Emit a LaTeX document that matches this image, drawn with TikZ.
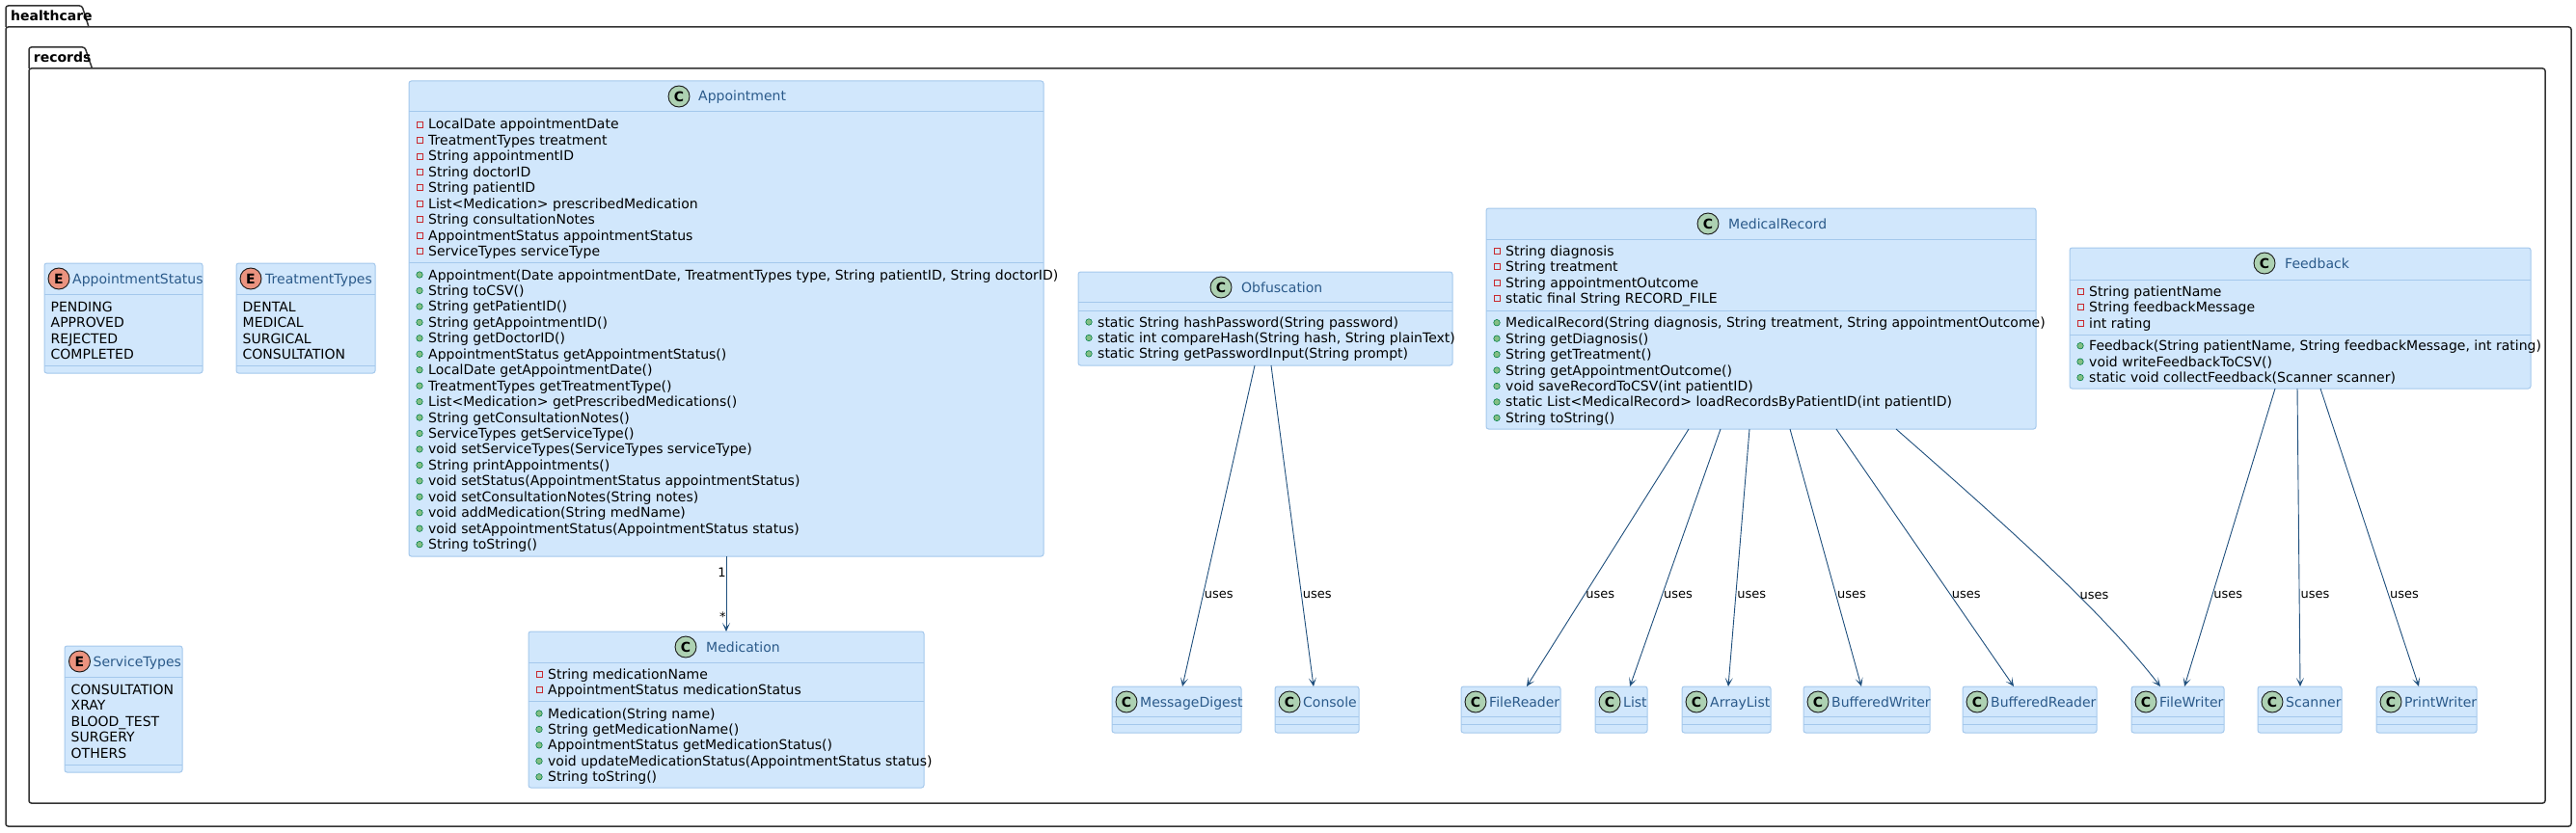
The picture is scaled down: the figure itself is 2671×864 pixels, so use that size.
\documentclass[tikz,border=0pt]{standalone}
\usepackage{fontspec}
\setmainfont{DejaVu Sans}
\usetikzlibrary{arrows.meta,positioning}

\definecolor{clsfill}{HTML}{D1E7FC}
\definecolor{clsline}{HTML}{A4C8EC}
\definecolor{titleblue}{HTML}{2B5A8A}
\definecolor{arrowblue}{HTML}{1F4F7D}
\definecolor{cgreen}{HTML}{ADD1B2}
\definecolor{eorange}{HTML}{EB937F}
\definecolor{privred}{HTML}{C82930}
\definecolor{pubgreen}{HTML}{84BE84}
\definecolor{pubdark}{HTML}{038048}
\definecolor{pkgline}{HTML}{333333}

% member lines: #1 prefix, #2 marker style, #3 box left, #4 first baseline, #5 lines
\newcommand{\mlist}[5]{%
  \foreach \txt [count=\k from 0] in {#5} {
    \pgfmathsetmacro{\yb}{#4+16.45*\k}
    \node[#2] (#1m\k) at ({#3+11}, {\yb-5}) {};
    \node[memb] (#1t\k) at ({#3+20}, \yb) {\txt};
  }}
% enum values: #1 prefix, #2 box left, #3 first baseline, #4 values
\newcommand{\elist}[4]{%
  \foreach \txt [count=\k from 0] in {#4} {
    \node[memb] (#1v\k) at ({#2+6.5}, {#3+16.5*\k}) {\txt};
  }}

\begin{document}
\begin{tikzpicture}[
  x=1pt, y=-1pt,
  % --- packages ---
  pkg/.style={draw=pkgline, line width=1.5pt, rounded corners=2.5pt},
  pkglbl/.style={font=\bfseries\fontsize{14}{16}\selectfont, anchor=base west, inner sep=0},
  % --- class boxes ---
  cls/.style={draw=clsline, fill=clsfill, line width=1pt, rounded corners=2.5pt,
    inner sep=0, outer sep=0, anchor=north west},
  sep/.style={draw=clsline, line width=1pt},
  badge/.style={circle, draw=black!90, line width=0.9pt, minimum size=22pt,
    inner sep=0, font=\bfseries\fontsize{14}{14}\selectfont},
  ctag/.style={badge, fill=cgreen},
  etag/.style={badge, fill=eorange},
  title/.style={font=\fontsize{14}{16}\selectfont, text=titleblue, anchor=base west, inner sep=0},
  memb/.style={font=\fontsize{14}{16}\selectfont, anchor=base west, inner sep=0},
  priv/.style={rectangle, draw=privred, line width=0.8pt, minimum size=6pt, inner sep=0},
  pub/.style={circle, draw=pubdark, fill=pubgreen, line width=0.6pt, minimum size=6.5pt, inner sep=0},
  % --- connectors ---
  uses/.style={draw=arrowblue, line width=0.9pt, -{Stealth[length=9pt, width=8pt, inset=5pt]}},
  lbl/.style={font=\fontsize{13}{15}\selectfont, inner sep=0, anchor=west, xshift=1pt},
  mult/.style={font=\fontsize{13}{15}\selectfont, inner sep=0, anchor=east},
]
\useasboundingbox (0,0) rectangle (2671,864);

% ===================== PACKAGES =====================

\draw[pkg] (6,28) rectangle (2666,857);
\draw[pkg] (6,28) -- (6,6) -- (85,6) -- (92,28);
\node[pkglbl] (hc) at (11,21.3) {healthcare};

\draw[pkg] (30,71) rectangle (2639,833);
\draw[pkg] (30,71) -- (30,49) -- (88,49) -- (95.5,71);
\node[pkglbl] (rec) at (34.7,64.5) {records};

% ===================== ENUMS =====================

\node[cls, minimum width=164pt, minimum height=114pt] (ast) at (46,273) {};
\draw[sep] ([yshift=-32pt]ast.north west) -- ([yshift=-32pt]ast.north east);
\draw[sep] ([yshift=-106pt]ast.north west) -- ([yshift=-106pt]ast.north east);
\node[etag] (ast-c) at (61,289) {E};
\node[title] (ast-t) at (75,294) {AppointmentStatus};
\elist{ast}{46}{323.3}{PENDING, APPROVED, REJECTED, COMPLETED}

\node[cls, minimum width=144pt, minimum height=114pt] (trt) at (245,273) {};
\draw[sep] ([yshift=-32pt]trt.north west) -- ([yshift=-32pt]trt.north east);
\draw[sep] ([yshift=-106pt]trt.north west) -- ([yshift=-106pt]trt.north east);
\node[etag] (trt-c) at (260,289) {E};
\node[title] (trt-t) at (275,294) {TreatmentTypes};
\elist{trt}{245}{323.3}{DENTAL, MEDICAL, SURGICAL, CONSULTATION}

\node[cls, minimum width=122pt, minimum height=131pt] (svt) at (67,670) {};
\draw[sep] ([yshift=-32pt]svt.north west) -- ([yshift=-32pt]svt.north east);
\draw[sep] ([yshift=-123pt]svt.north west) -- ([yshift=-123pt]svt.north east);
\node[etag] (svt-c) at (82.5,686) {E};
\node[title] (svt-t) at (96.5,691) {ServiceTypes};
\elist{svt}{67}{720}{CONSULTATION, XRAY, BLOOD\_TEST, SURGERY, OTHERS}

% ===================== CLASSES =====================

% Appointment
\node[cls, minimum width=658pt, minimum height=493pt] (appt) at (424,84) {};
\draw[sep] ([yshift=-32pt]appt.north west) -- ([yshift=-32pt]appt.north east);
\draw[sep] ([yshift=-188pt]appt.north west) -- ([yshift=-188pt]appt.north east);
\node[ctag] (appt-c) at (704,100) {C};
\node[title] (appt-t) at (724,105) {Appointment};
\mlist{appta}{priv}{424}{134}{LocalDate appointmentDate, TreatmentTypes treatment,
  String appointmentID, String doctorID, String patientID,
  List<Medication> prescribedMedication, String consultationNotes,
  AppointmentStatus appointmentStatus, ServiceTypes serviceType}
\mlist{apptm}{pub}{424}{290}{{Appointment(Date appointmentDate, TreatmentTypes type, String patientID, String doctorID)},
  String toCSV(), String getPatientID(), String getAppointmentID(), String getDoctorID(),
  AppointmentStatus getAppointmentStatus(), LocalDate getAppointmentDate(),
  TreatmentTypes getTreatmentType(), List<Medication> getPrescribedMedications(),
  String getConsultationNotes(), ServiceTypes getServiceType(),
  void setServiceTypes(ServiceTypes serviceType), String printAppointments(),
  void setStatus(AppointmentStatus appointmentStatus), void setConsultationNotes(String notes),
  void addMedication(String medName), void setAppointmentStatus(AppointmentStatus status),
  String toString()}

% Medication
\node[cls, minimum width=410pt, minimum height=162pt] (med) at (548,655) {};
\draw[sep] ([yshift=-32pt]med.north west) -- ([yshift=-32pt]med.north east);
\draw[sep] ([yshift=-72pt]med.north west) -- ([yshift=-72pt]med.north east);
\node[ctag] (med-c) at (711,671) {C};
\node[title] (med-t) at (732,676) {Medication};
\mlist{meda}{priv}{548}{704}{String medicationName, AppointmentStatus medicationStatus}
\mlist{medm}{pub}{548}{745}{Medication(String name), String getMedicationName(),
  AppointmentStatus getMedicationStatus(),
  void updateMedicationStatus(AppointmentStatus status), String toString()}

% Obfuscation
\node[cls, minimum width=388pt, minimum height=97pt] (obf) at (1118,282) {};
\draw[sep] ([yshift=-31pt]obf.north west) -- ([yshift=-31pt]obf.north east);
\draw[sep] ([yshift=-40pt]obf.north west) -- ([yshift=-40pt]obf.north east);
\node[ctag] (obf-c) at (1266,298) {C};
\node[title] (obf-t) at (1287,303) {Obfuscation};
\mlist{obfm}{pub}{1118}{339}{static String hashPassword(String password),
  {static int compareHash(String hash, String plainText)},
  static String getPasswordInput(String prompt)}

% MedicalRecord
\node[cls, minimum width=570pt, minimum height=229pt] (mr) at (1541,216) {};
\draw[sep] ([yshift=-32pt]mr.north west) -- ([yshift=-32pt]mr.north east);
\draw[sep] ([yshift=-106pt]mr.north west) -- ([yshift=-106pt]mr.north east);
\node[ctag] (mr-c) at (1771,232) {C};
\node[title] (mr-t) at (1792,237) {MedicalRecord};
\mlist{mra}{priv}{1541}{265.3}{String diagnosis, String treatment, String appointmentOutcome,
  static final String RECORD\_FILE}
\mlist{mrm}{pub}{1541}{339.7}{{MedicalRecord(String diagnosis, String treatment, String appointmentOutcome)},
  String getDiagnosis(), String getTreatment(), String getAppointmentOutcome(),
  void saveRecordToCSV(int patientID),
  static List<MedicalRecord> loadRecordsByPatientID(int patientID), String toString()}

% Feedback
\node[cls, minimum width=478pt, minimum height=146pt] (fb) at (2146,257) {};
\draw[sep] ([yshift=-33pt]fb.north west) -- ([yshift=-33pt]fb.north east);
\draw[sep] ([yshift=-90pt]fb.north west) -- ([yshift=-90pt]fb.north east);
\node[ctag] (fb-c) at (2348,273) {C};
\node[title] (fb-t) at (2369,278) {Feedback};
\mlist{fba}{priv}{2146}{307.3}{String patientName, String feedbackMessage, int rating}
\mlist{fbm}{pub}{2146}{363.7}{{Feedback(String patientName, String feedbackMessage, int rating)},
  void writeFeedbackToCSV(), static void collectFeedback(Scanner scanner)}

% ===================== LIBRARY CLASSES =====================

\foreach \nm/\lab/\xa/\xb in {md/MessageDigest/1153/1287, con/Console/1322/1409,
    frd/FileReader/1515/1618, lst/List/1654/1708, alst/ArrayList/1744/1836,
    bw/BufferedWriter/1870/2001, br/BufferedReader/2035/2174, fw/FileWriter/2210/2306,
    scn/Scanner/2341/2428, pw/PrintWriter/2464/2568} {
  \pgfmathsetmacro{\boxw}{\xb-\xa}
  \node[cls, minimum width=\boxw pt, minimum height=48pt] (\nm) at (\xa,712) {};
  \draw[sep] ([yshift=-31pt]\nm.north west) -- ([yshift=-31pt]\nm.north east);
  \draw[sep] ([yshift=-39pt]\nm.north west) -- ([yshift=-39pt]\nm.north east);
  \node[ctag] (\nm-c) at (\xa+15,728) {C};
  \node[title] (\nm-t) at (\xa+29,733) {\lab};
}

% ===================== ARROWS =====================

\draw[uses] (appt.south) -- node[mult, pos=0.21] (m1) {1}
  node[mult, pos=0.8] (m2) {*} (med.north);

\draw[uses] ([xshift=-11pt]obf.south) -- node[lbl, pos=0.715] (obu1) {uses} ([xshift=6pt]md.north);
\draw[uses] ([xshift=6pt]obf.south) -- node[lbl, pos=0.715] (obu2) {uses} ([xshift=-3.5pt]con.north);

\foreach \s/\tgt/\e [count=\i] in {-75/frd/16.5, -42/lst/9, -12/alst/2, 30/bw/-5.5, 78/br/-16.5} {
  \draw[uses] ([xshift=\s pt]mr.south) -- node[lbl, pos=0.643] (mru\i) {uses} ([xshift=\e pt]\tgt.north);
}
\draw[uses] ([xshift=140pt]mr.south) .. controls (2081,546) and (2178,632) ..
  node[lbl, pos=0.62] (mru6) {uses} ([xshift=-18pt]fw.north);

\foreach \s/\tgt/\e [count=\i] in {-26/fw/7, -3/scn/0.5, 21/pw/-8} {
  \draw[uses] ([xshift=\s pt]fb.south) -- node[lbl, pos=0.6926] (fbu\i) {uses} ([xshift=\e pt]\tgt.north);
}

\end{tikzpicture}
\end{document}
